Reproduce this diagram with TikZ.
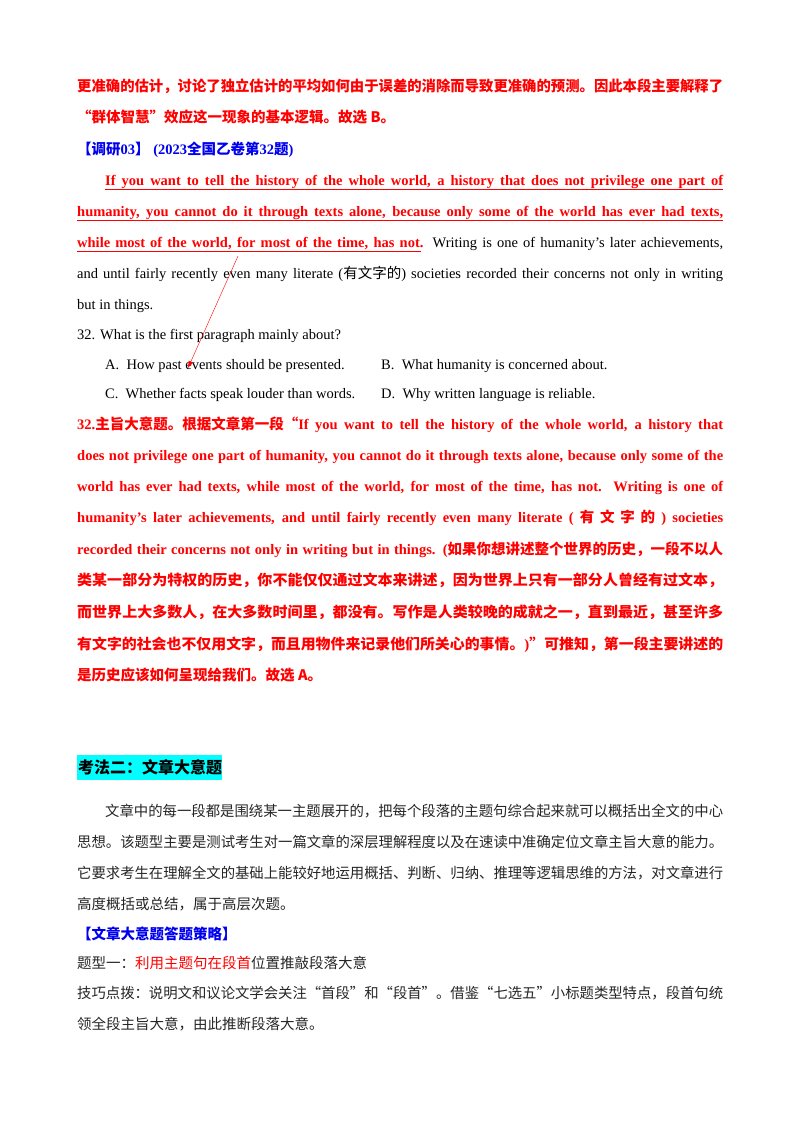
\documentclass[tikz,border=0pt]{standalone}
\usepackage{fontspec}
\usepackage{graphicx}
\usetikzlibrary{arrows.meta}
\setmainfont{Liberation Serif}
\newfontfamily\cjk{Noto Sans CJK SC}
\definecolor{rd}{RGB}{255,0,0}
\definecolor{bl}{RGB}{0,0,240}
\definecolor{cy}{RGB}{0,255,255}
\newcommand{\fl}[1]{\makebox[646pt][s]{#1}}
\newcommand{\cfl}[2][646pt]{\resizebox{#1}{\height}{#2}}
\begin{document}
\begin{tikzpicture}[x=1pt,y=-1pt,
  ln/.style={anchor=base west,inner sep=0pt,font=\fontsize{14.5}{16}\selectfont},
  rb/.style={ln,text=rd,font=\fontsize{14.5}{16}\selectfont\bfseries}]
\useasboundingbox (0,0) rectangle (800,1132);
\fill[white] (0,0) rectangle (800,1132);
% top
\node[rb] (l1) at (77,91) {\cjk\cfl{更准确的估计，讨论了独立估计的平均如何由于误差的消除而导致更准确的预测。因此本段主要解释了}};
\node[rb] (l2) at (77,122) {\cjk “群体智慧”效应这一现象的基本逻辑。故选 B。};
\node[ln,text=bl,font=\fontsize{14.5}{16}\selectfont\bfseries] (l3) at (77,154) {{\cjk 【调研}03{\cjk 】} (2023{\cjk 全国乙卷第}32{\cjk 题})};
\node[rb] (e1) at (105,185) {\makebox[618pt][s]{If you want to tell the history of the whole world, a history that does not privilege one part of}};
\node[rb] (e2) at (77,216) {\fl{humanity, you cannot do it through texts alone, because only some of the world has ever had texts,}};
\node[ln] (e3) at (77,247) {\fl{\textcolor{rd}{\bfseries while most of the world, for most of the time, has not.} Writing is one of humanity’s later achievements,}};
\draw[rd,line width=0.7pt] (105,189) -- (723,189) (77,220) -- (723,220) (77,251) -- (421,251);
\node[ln] (e4) at (77,278) {\fl{and until fairly recently even many literate ({\cjk 有文字的}) societies recorded their concerns not only in writing}};
\node[ln] (e5) at (77,309) {but in things.};
\node[ln] (q) at (77,339) {32. What is the first paragraph mainly about?};
\node[ln] (qa) at (105,369) {A.\ \ How past events should be presented.};
\node[ln] (qb) at (381,369) {B.\ \ What humanity is concerned about.};
\node[ln] (qc) at (105,398) {C.\ \ Whether facts speak louder than words.};
\node[ln] (qd) at (381,398) {D.\ \ Why written language is reliable.};
\coordinate (at) at (238,256);
\coordinate (ab) at (188,368);
\draw[rd,line width=0.4pt,-{Latex[length=7pt,width=5pt]}] (at) -- (ab);
% answer
\node[rb] (a1) at (77,429) {\fl{32.{\cjk 主旨大意题。根据文章第一段“}If you want to tell the history of the whole world, a history that}};
\node[rb] (a2) at (77,460) {\fl{does not privilege one part of humanity, you cannot do it through texts alone, because only some of the}};
\node[rb] (a3) at (77,491) {\fl{world has ever had texts, while most of the world, for most of the time, has not. Writing is one of}};
\node[rb] (a4) at (77,522) {\fl{humanity’s later achievements, and until fairly recently even many literate ( {\cjk 有 文 字 的} ) societies}};
\node[rb] (a5) at (77,554) {\fl{recorded their concerns not only in writing but in things. ({\cjk 如果你想讲述整个世界的历史，一段不以人}}};
\node[rb] (a6) at (77,585) {\cjk\cfl{类某一部分为特权的历史，你不能仅仅通过文本来讲述，因为世界上只有一部分人曾经有过文本，}};
\node[rb] (a7) at (77,617) {\cjk\cfl{而世界上大多数人，在大多数时间里，都没有。写作是人类较晚的成就之一，直到最近，甚至许多}};
\node[rb] (a8) at (77,649) {\cfl{{\cjk 有文字的社会也不仅用文字，而且用物件来记录他们所关心的事情。}){\cjk ”可推知，第一段主要讲述的}}};
\node[rb] (a9) at (77,680) {\cjk 是历史应该如何呈现给我们。故选 A。};
% section 2
\fill[cy] (77,755) rectangle (222,780);
\node[ln,font=\fontsize{16}{18}\selectfont\bfseries] (h) at (78,773) {\cjk 考法二：文章大意题};
\node[ln,text=black!85] (p1) at (105,816) {\cjk\cfl[618pt]{文章中的每一段都是围绕某一主题展开的，把每个段落的主题句综合起来就可以概括出全文的中心}};
\node[ln,text=black!85] (p2) at (77,847) {\cjk\cfl{思想。该题型主要是测试考生对一篇文章的深层理解程度以及在速读中准确定位文章主旨大意的能力。}};
\node[ln,text=black!85] (p3) at (77,878) {\cjk\cfl{它要求考生在理解全文的基础上能较好地运用概括、判断、归纳、推理等逻辑思维的方法，对文章进行}};
\node[ln,text=black!85] (p4) at (77,909) {\cjk 高度概括或总结，属于高层次题。};
\node[ln,text=bl,font=\fontsize{14.5}{16}\selectfont\bfseries] (s) at (77,939) {\cjk 【文章大意题答题策略】};
\node[ln,text=black!85] (t1) at (77,968) {\cjk 题型一：\textcolor{rd}{利用主题句在段首}位置推敲段落大意};
\node[ln,text=black!85] (t2) at (77,998) {\cjk\cfl{技巧点拨：说明文和议论文学会关注“首段”和“段首”。借鉴“七选五”小标题类型特点，段首句统}};
\node[ln,text=black!85] (t3) at (77,1029) {\cjk 领全段主旨大意，由此推断段落大意。};
\end{tikzpicture}
\end{document}
